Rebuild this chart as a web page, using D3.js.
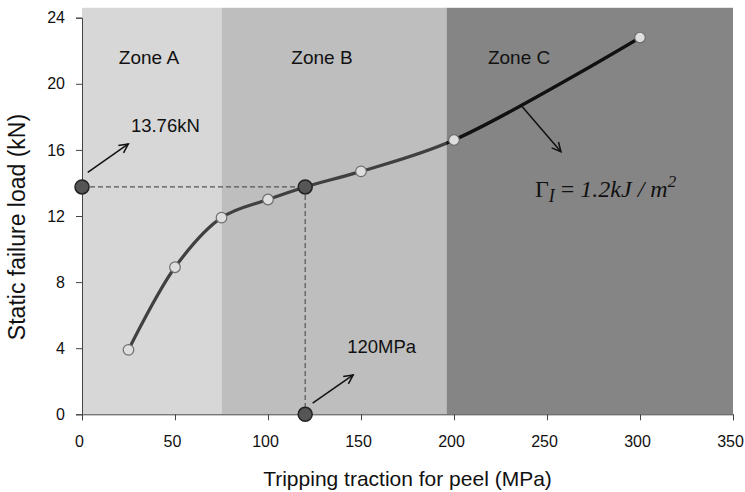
<!DOCTYPE html>
<html>
<head>
<meta charset="utf-8">
<script src="https://cdn.jsdelivr.net/npm/d3@7"></script>
<style>
  body { margin: 0; background: #fff; }
  svg { display: block; }
  text { font-family: "Liberation Sans", Arial, sans-serif; fill: #111; }
</style>
</head>
<body>
<svg id="chart" width="745" height="492"></svg>
<script>
// measured series: tripping traction (MPa) vs static failure load (kN)
const tractionMPa = [25, 50, 75, 100, 120, 150, 200, 300];
const failureLoadKN = [3.9, 8.9, 11.9, 13.0, 13.76, 14.7, 16.6, 22.8];

const xTicks = [0, 50, 100, 150, 200, 250, 300, 350];
const yTicks = [0, 4, 8, 12, 16, 20, 24];

const zoneNames = ['Zone A', 'Zone B', 'Zone C'];
const zoneEdges = [0, 75, 196, 350];
const zoneColors = ['#d7d7d7', '#bebebe', '#858585'];
const zoneLabelX = [36, 129, 235];

// highlighted point 120 MPa -> 13.76 kN and its projections on both axes
const keyTraction = 120;
const keyLoad = 13.76;

const width = 745;
const height = 492;
const margin = { top: 17.7, right: 12, bottom: 77.7, left: 82 };

const svg = d3.select('#chart');

const x = d3.scaleLinear().domain([0, 350]).range([margin.left, width - margin.right]);
const y = d3.scaleLinear().domain([0, 24]).range([height - margin.bottom, margin.top]);

// zone backgrounds (they reach a bit above the 24 tick)
svg.append('g')
  .selectAll('rect')
  .data(zoneNames)
  .join('rect')
  .attr('x', (d, i) => x(zoneEdges[i]))
  .attr('width', (d, i) => x(zoneEdges[i + 1]) - x(zoneEdges[i]))
  .attr('y', y(24.6))
  .attr('height', y(0) - y(24.6))
  .attr('fill', (d, i) => zoneColors[i]);

svg.append('g')
  .selectAll('text')
  .data(zoneNames)
  .join('text')
  .attr('x', (d, i) => x(zoneLabelX[i]))
  .attr('y', y(21.2))
  .attr('text-anchor', 'middle')
  .style('font-size', '19px')
  .text((d) => d);

// dashed projection lines
const dashed = svg.append('g')
  .attr('stroke', '#555')
  .attr('stroke-width', 1.2)
  .attr('stroke-dasharray', '5,3')
  .attr('fill', 'none');
dashed.append('line')
  .attr('x1', x(0)).attr('x2', x(keyTraction))
  .attr('y1', y(keyLoad)).attr('y2', y(keyLoad));
dashed.append('line')
  .attr('x1', x(keyTraction)).attr('x2', x(keyTraction))
  .attr('y1', y(keyLoad)).attr('y2', y(0));

// axes
const xAxis = svg.append('g')
  .attr('transform', `translate(0,${y(0)})`)
  .call(d3.axisBottom(x).tickValues(xTicks).tickSize(6).tickPadding(15));
const yAxis = svg.append('g')
  .attr('transform', `translate(${x(0)},0)`)
  .call(d3.axisLeft(y).tickValues(yTicks).tickSize(6).tickPadding(11));
[xAxis, yAxis].forEach((g) => {
  g.select('.domain').attr('stroke', '#444');
  g.selectAll('.tick line').attr('stroke', '#444');
  g.selectAll('.tick text')
    .style('font-size', '16px')
    .style('font-family', '"Liberation Sans", Arial, sans-serif')
    .attr('fill', '#111');
});
xAxis.selectAll('.tick text').attr('dx', -3);

// curve
const points = tractionMPa.map((t, i) => [t, failureLoadKN[i]]);
const line = d3.line()
  .x((d) => x(d[0]))
  .y((d) => y(d[1]))
  .curve(d3.curveCatmullRom.alpha(0.5));

svg.append('clipPath')
  .attr('id', 'zoneC')
  .append('rect')
  .attr('x', x(zoneEdges[2]))
  .attr('y', 0)
  .attr('width', width)
  .attr('height', height);

svg.append('path')
  .datum(points)
  .attr('d', line)
  .attr('fill', 'none')
  .attr('stroke', '#404040')
  .attr('stroke-width', 3.2);
svg.append('path')
  .datum(points)
  .attr('d', line)
  .attr('fill', 'none')
  .attr('stroke', '#111')
  .attr('stroke-width', 3.2)
  .attr('clip-path', 'url(#zoneC)');

// open markers
svg.append('g')
  .selectAll('circle')
  .data(points.filter((d) => d[0] !== keyTraction))
  .join('circle')
  .attr('cx', (d) => x(d[0]))
  .attr('cy', (d) => y(d[1]))
  .attr('r', 5.3)
  .attr('fill', '#dedede')
  .attr('stroke', '#6e6e6e')
  .attr('stroke-width', 1.2);

// filled key markers
const keyPoints = [[0, keyLoad], [keyTraction, keyLoad], [keyTraction, 0]];
svg.append('g')
  .selectAll('circle')
  .data(keyPoints)
  .join('circle')
  .attr('cx', (d) => x(d[0]))
  .attr('cy', (d) => y(d[1]))
  .attr('r', 7)
  .attr('fill', '#555')
  .attr('stroke', '#222')
  .attr('stroke-width', 1.5);

// annotation arrows (data coordinates)
const defs = svg.append('defs');
defs.append('marker')
  .attr('id', 'vhead')
  .attr('viewBox', '-11 -6 13 12')
  .attr('refX', 0)
  .attr('refY', 0)
  .attr('markerWidth', 13)
  .attr('markerHeight', 12)
  .attr('markerUnits', 'userSpaceOnUse')
  .attr('orient', 'auto')
  .append('path')
  .attr('d', 'M-9,-4.5L0,0L-9,4.5')
  .attr('fill', 'none')
  .attr('stroke', '#111')
  .attr('stroke-width', 1.5);

const arrows = [
  { from: [3.1, 14.64], to: [24.9, 16.36] },
  { from: [124, 0.67], to: [145.8, 2.38] },
  { from: [235.9, 18.72], to: [257.5, 15.89] },
];
svg.append('g')
  .selectAll('line')
  .data(arrows)
  .join('line')
  .attr('x1', (d) => x(d.from[0]))
  .attr('y1', (d) => y(d.from[1]))
  .attr('x2', (d) => x(d.to[0]))
  .attr('y2', (d) => y(d.to[1]))
  .attr('stroke', '#111')
  .attr('stroke-width', 1.5)
  .attr('marker-end', 'url(#vhead)');

const notes = [
  { text: '13.76kN', at: [26.3, 17.1] },
  { text: '120MPa', at: [142.6, 3.69] },
];
svg.append('g')
  .selectAll('text')
  .data(notes)
  .join('text')
  .attr('x', (d) => x(d.at[0]))
  .attr('y', (d) => y(d.at[1]))
  .style('font-size', '18.5px')
  .text((d) => d.text);

// fracture energy label
const gamma = svg.append('text')
  .attr('x', x(243.5))
  .attr('y', y(13.17))
  .style('font-family', '"Liberation Serif", "Times New Roman", serif')
  .style('font-size', '24px');
gamma.append('tspan').text('Γ');
gamma.append('tspan').attr('dy', 5).style('font-style', 'italic').style('font-size', '18px').text('I');
gamma.append('tspan').attr('dy', -5).text(' = ');
gamma.append('tspan').style('font-style', 'italic').text('1.2kJ / m');
gamma.append('tspan').attr('dy', -10).style('font-style', 'italic').style('font-size', '17px').text('2');

// axis titles
svg.append('text')
  .attr('x', (x(0) + x(350)) / 2)
  .attr('y', 486)
  .attr('text-anchor', 'middle')
  .style('font-size', '21px')
  .text('Tripping traction for peel (MPa)');

svg.append('text')
  .attr('transform', 'translate(25,227) rotate(-90)')
  .attr('text-anchor', 'middle')
  .style('font-size', '23px')
  .text('Static failure load (kN)');
</script>
</body>
</html>
